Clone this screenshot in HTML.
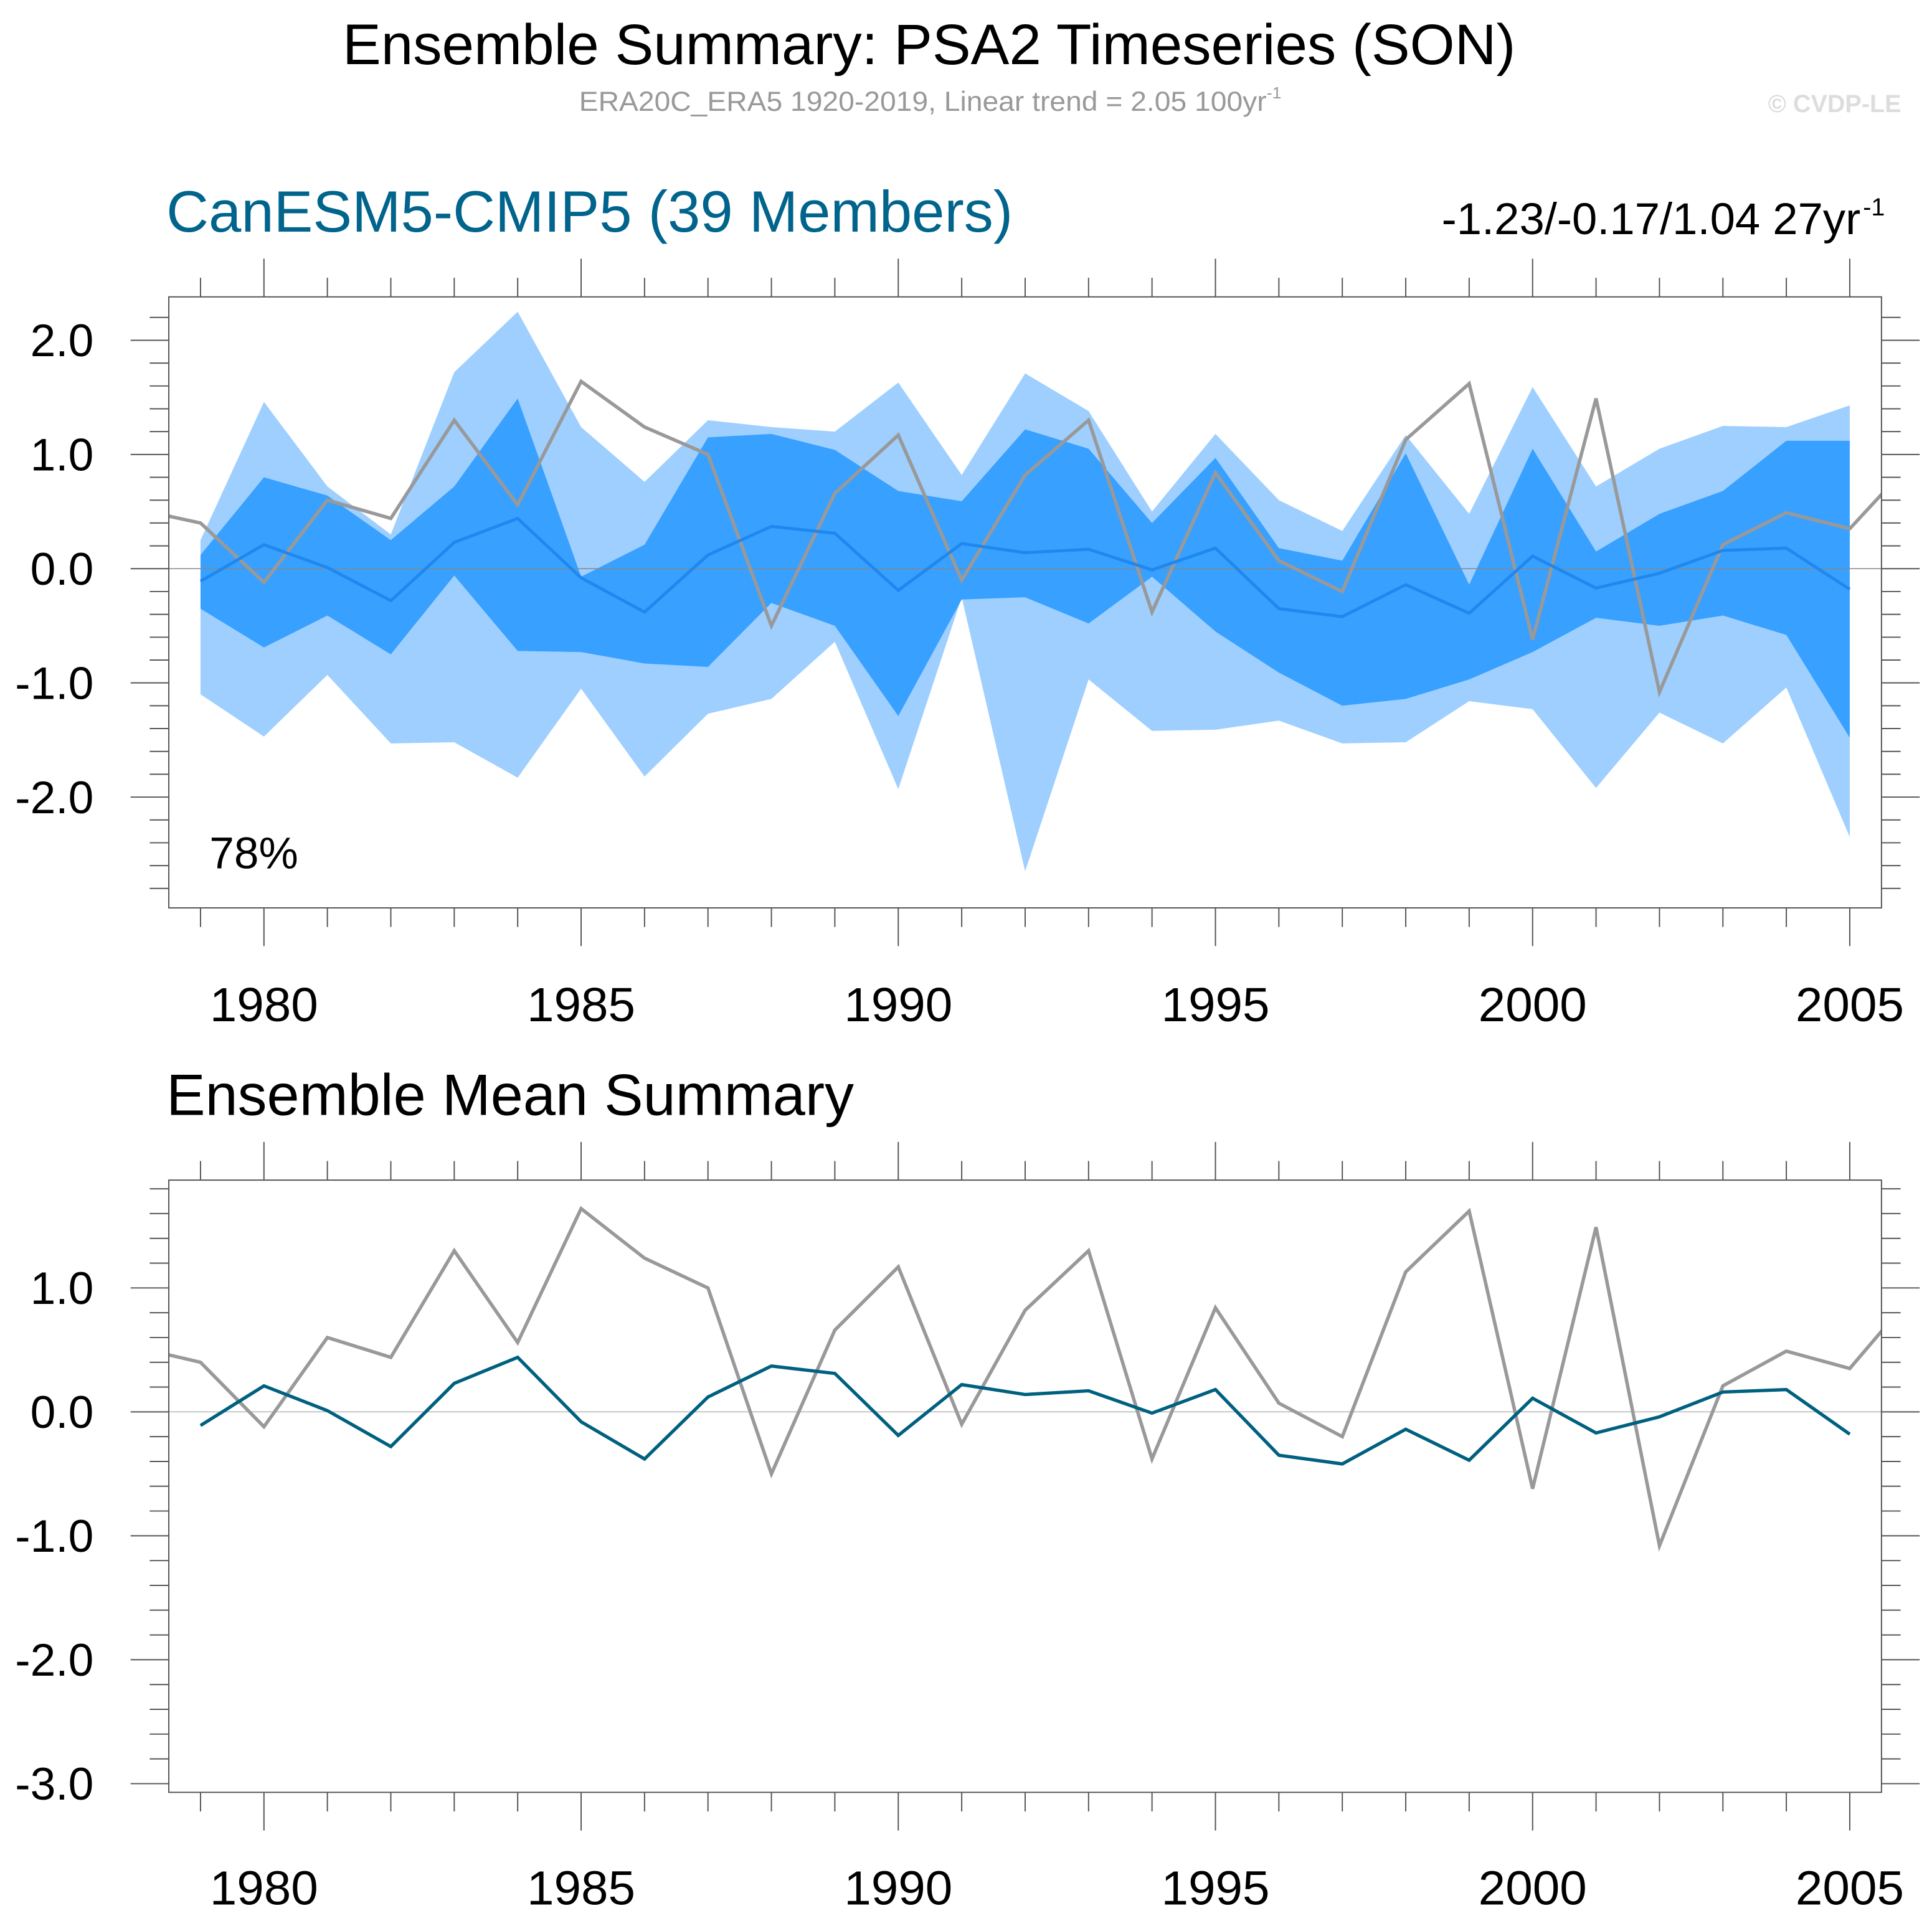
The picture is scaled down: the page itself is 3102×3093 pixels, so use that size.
<!DOCTYPE html>
<html><head><meta charset="utf-8"><style>
html,body{margin:0;padding:0;background:#fff}
svg{display:block}
text{font-family:"Liberation Sans",sans-serif}
</style></head><body>
<svg id="chart" width="3102" height="3093" viewBox="0 0 1568 1563.5" preserveAspectRatio="none" xmlns="http://www.w3.org/2000/svg">
<defs>
<clipPath id="clipTop"><rect x="137" y="241" width="1390" height="496"/></clipPath>
<clipPath id="clipBot"><rect x="137" y="958" width="1390" height="497"/></clipPath>
</defs>
<text x="754" y="52" font-size="46.5" text-anchor="middle" textLength="952" lengthAdjust="spacingAndGlyphs">Ensemble Summary: PSA2 Timeseries (SON)</text>
<text x="470" y="90" font-size="22.5" fill="#999" textLength="570" lengthAdjust="spacingAndGlyphs">ERA20C_ERA5 1920-2019, Linear trend = 2.05 100yr<tspan font-size="13" dy="-10">-1</tspan></text>
<text x="1543" y="91" font-size="20" font-weight="bold" fill="#ddd" text-anchor="end">© CVDP-LE</text>
<text x="135" y="188" font-size="47.5" fill="#00648c" textLength="687" lengthAdjust="spacingAndGlyphs">CanESM5-CMIP5 (39 Members)</text>
<text x="1170" y="190" font-size="36" textLength="340" lengthAdjust="spacingAndGlyphs">-1.23/-0.17/1.04 27yr</text>
<text x="1512" y="175" font-size="20">-1</text>
<text x="135" y="905" font-size="47.5" textLength="558" lengthAdjust="spacingAndGlyphs">Ensemble Mean Summary</text>
<g id="top"></g>
<g id="bot"></g>
</svg>
<script>
const years=[1979,1980,1981,1982,1983,1984,1985,1986,1987,1988,1989,1990,1991,1992,1993,1994,1995,1996,1997,1998,1999,2000,2001,2002,2003,2004,2005];
const obsYears=[1978,1979,1980,1981,1982,1983,1984,1985,1986,1987,1988,1989,1990,1991,1992,1993,1994,1995,1996,1997,1998,1999,2000,2001,2002,2003,2004,2005,2006];
const obsVals=[0.52,0.40,-0.12,0.60,0.44,1.30,0.56,1.64,1.24,1.00,-0.50,0.66,1.17,-0.10,0.82,1.30,-0.38,0.84,0.07,-0.20,1.13,1.62,-0.62,1.49,-1.08,0.21,0.49,0.35,0.95];
const meanVals=[-0.11,0.21,0.01,-0.28,0.23,0.44,-0.08,-0.38,0.12,0.37,0.31,-0.19,0.22,0.14,0.17,-0.01,0.18,-0.35,-0.42,-0.14,-0.39,0.11,-0.17,-0.04,0.16,0.18,-0.18];
const outerMax=[0.25,1.46,0.72,0.30,1.72,2.25,1.24,0.76,1.30,1.24,1.20,1.63,0.82,1.71,1.38,0.50,1.18,0.60,0.33,1.17,0.48,1.59,0.72,1.05,1.25,1.24,1.43];
const outerMin=[-1.10,-1.47,-0.93,-1.53,-1.52,-1.83,-1.05,-1.82,-1.27,-1.14,-0.64,-1.93,-0.25,-2.65,-0.97,-1.42,-1.41,-1.33,-1.53,-1.52,-1.16,-1.23,-1.92,-1.26,-1.53,-1.04,-2.35];
const innerMax=[0.12,0.80,0.64,0.25,0.72,1.49,-0.07,0.21,1.15,1.18,1.04,0.68,0.59,1.22,1.05,0.40,0.97,0.18,0.07,1.01,-0.14,1.05,0.15,0.48,0.68,1.12,1.12];
const innerMin=[-0.35,-0.69,-0.41,-0.75,-0.06,-0.72,-0.73,-0.83,-0.86,-0.30,-0.50,-1.29,-0.27,-0.25,-0.48,-0.07,-0.55,-0.91,-1.20,-1.14,-0.97,-0.73,-0.43,-0.50,-0.41,-0.58,-1.48];
const xTickLabels=["1980","1985","1990","1995","2000","2005"];
const topYLabels=["2.0","1.0","0.0","-1.0","-2.0"];
const botYLabels=["1.0","0.0","-1.0","-2.0","-3.0"];
const topYVals=[2,1,0,-1,-2];
const botYVals=[1,0,-1,-2,-3];

const NS="http://www.w3.org/2000/svg";
function mk(parent,tag,attrs){const e=document.createElementNS(NS,tag);for(const k in attrs)e.setAttribute(k,attrs[k]);parent.appendChild(e);return e;}
const X0=137,X1=1527,YR0=1978.5,YR1=2005.5;
const xs=y=>X0+(y-YR0)/(YR1-YR0)*(X1-X0);

function panel(g,top,bot,vmax,vmin,yVals,yLabels,labelY){
  const ys=v=>top+(vmax-v)/(vmax-vmin)*(bot-top);
  for(let yr=1979;yr<=2005;yr++){
    const maj=yr%5===0, L=maj?31:15.5, x=xs(yr);
    let t=mk(g,'line',{x1:x,x2:x,y1:top,y2:top-L,stroke:'#555','stroke-width':1});
    
    t=mk(g,'line',{x1:x,x2:x,y1:bot,y2:bot+L,stroke:'#555','stroke-width':1});
    
  }
  xTickLabels.forEach(s=>{
    const t=mk(g,'text',{x:xs(+s),y:labelY,'font-size':39,'text-anchor':'middle',textLength:88,lengthAdjust:'spacingAndGlyphs'});
    t.textContent=s;
    
  });
  const lo=Math.ceil(vmin*5),hi=Math.floor(vmax*5);
  for(let i=lo;i<=hi;i++){
    const v=i/5,maj=i%5===0,L=maj?31:15.5,y=ys(v);
    let t=mk(g,'line',{x1:X0,x2:X0-L,y1:y,y2:y,stroke:'#555','stroke-width':1});
    
    t=mk(g,'line',{x1:X1,x2:X1+L,y1:y,y2:y,stroke:'#555','stroke-width':1});
    
  }
  yVals.forEach((v,i)=>{
    const t=mk(g,'text',{x:76,y:ys(v)+13,'font-size':37,'text-anchor':'end'});
    t.textContent=yLabels[i];
    
  });
  return ys;
}
function linePts(xa,va,ys){return xa.map((y,i)=>xs(y)+','+ys(va[i])).join(' ');}
function bandPts(hiA,loA,ys){
  const a=years.map((y,i)=>xs(y)+','+ys(hiA[i]));
  const b=years.map((y,i)=>xs(y)+','+ys(loA[i])).reverse();
  return a.concat(b).join(' ');
}

const gt=document.getElementById('top');
const ysT=panel(gt,241,737,2.38,-2.97,topYVals,topYLabels,829);
const gtc=mk(gt,'g',{'clip-path':'url(#clipTop)'});
let e=mk(gtc,'polygon',{points:bandPts(outerMax,outerMin,ysT),fill:'#9ecfff'});

e=mk(gtc,'polygon',{points:bandPts(innerMax,innerMin,ysT),fill:'#38a0ff'});

e=mk(gtc,'line',{x1:X0,x2:X1,y1:ysT(0),y2:ysT(0),stroke:'#888','stroke-width':0.8});

e=mk(gtc,'polyline',{points:linePts(obsYears,obsVals,ysT),fill:'none',stroke:'#999','stroke-width':2.8});

e=mk(gtc,'polyline',{points:linePts(years,meanVals,ysT),fill:'none',stroke:'#1e88f0','stroke-width':2.5});

e=mk(gt,'rect',{x:X0,y:241,width:X1-X0,height:496,fill:'none',stroke:'#555','stroke-width':1});

e=mk(gt,'text',{x:170,y:705,'font-size':36});e.textContent='78%';


const gb=document.getElementById('bot');
const ysB=panel(gb,958,1455,1.87,-3.07,botYVals,botYLabels,1546);
const gbc=mk(gb,'g',{'clip-path':'url(#clipBot)'});
e=mk(gbc,'line',{x1:X0,x2:X1,y1:ysB(0),y2:ysB(0),stroke:'#bbb','stroke-width':0.8});

e=mk(gbc,'polyline',{points:linePts(obsYears,obsVals,ysB),fill:'none',stroke:'#999','stroke-width':2.8});

e=mk(gbc,'polyline',{points:linePts(years,meanVals,ysB),fill:'none',stroke:'#00607f','stroke-width':2.7});

e=mk(gb,'rect',{x:X0,y:958,width:X1-X0,height:497,fill:'none',stroke:'#555','stroke-width':1});

</script>
</body></html>
